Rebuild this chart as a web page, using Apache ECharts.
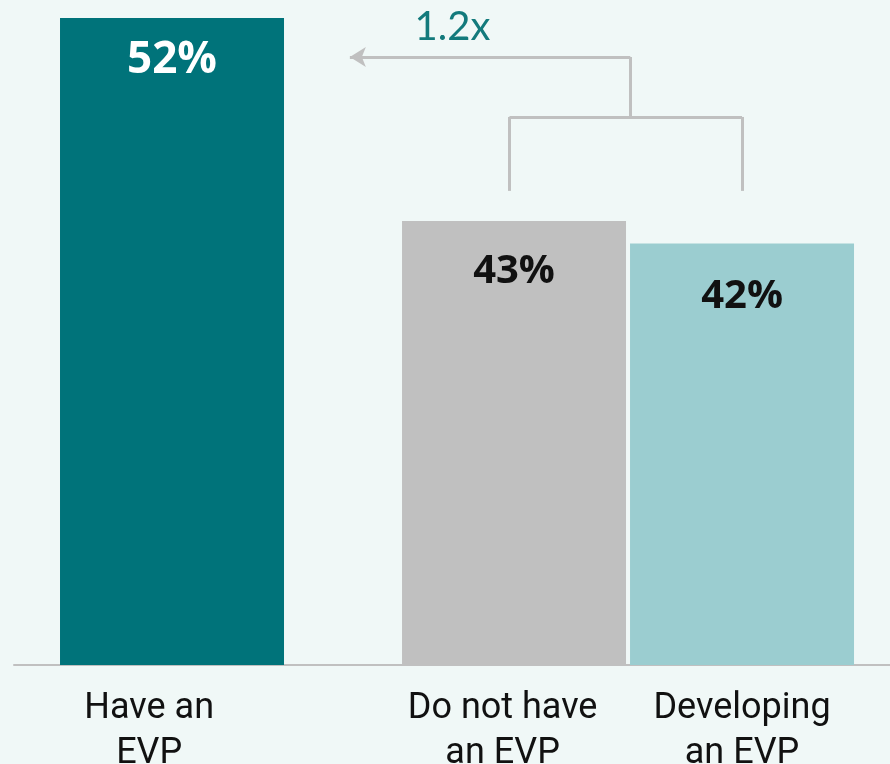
<!DOCTYPE html>
<html>
<head>
<meta charset="utf-8">
<script src="https://cdn.jsdelivr.net/npm/echarts@6/dist/echarts.min.js"></script>
<style>
  html, body { margin: 0; padding: 0; background: #f0f8f7; }
  #chart { width: 890px; height: 764px; }
</style>
</head>
<body>
<div id="chart"></div>
<script>
// Share of respondents by EVP status
const categories = ['Have an\nEVP', 'Do not have\nan EVP', 'Developing\nan EVP'];
const shares = [52, 43, 42];
const ratioNote = '1.2x';

// Layout on the horizontal value scale: the first bar stands alone,
// the two comparison bars sit side by side after a gap.
const barSlots = [0, 1.5, 2.5];
const labelSlots = [-0.1, 1.45, 2.5];
const barColors = ['#00737a', '#c0c0c0', '#9bcdd0'];
const labelColors = ['#ffffff', '#111111', '#111111'];
const labelSizes = [44, 40, 40];
const labelDistances = [20, 31, 33];

const chart = echarts.init(document.getElementById('chart'));

const barData = shares.map((v, i) => ({
  value: [barSlots[i], v],
  itemStyle: { color: barColors[i] },
  label: {
    color: labelColors[i],
    fontSize: labelSizes[i],
    distance: labelDistances[i]
  }
}));

// Bracket joining the two comparison bars, with an arrow back to the first bar
const legY = 44.33, bracketY = 47.61, arrowY = 50.27;
const leftLeg = 1.48, rightLeg = barSlots[2], riser = 2.01, arrowEnd = 0.78;
const bracket = [
  [{ coord: [leftLeg, legY] }, { coord: [leftLeg, bracketY] }],
  [{ coord: [leftLeg, bracketY] }, { coord: [rightLeg, bracketY] }],
  [{ coord: [rightLeg, bracketY] }, { coord: [rightLeg, legY] }],
  [{ coord: [riser, bracketY] }, { coord: [riser, arrowY] }],
  [{ coord: [riser, arrowY] }, { coord: [arrowEnd, arrowY], symbol: 'arrow', symbolSize: [15, 16] }]
];

chart.setOption({
  backgroundColor: '#f0f8f7',
  animation: false,
  grid: { left: 14, right: 0, top: 18, bottom: 99, containLabel: false, outerBoundsMode: 'none' },
  xAxis: {
    type: 'value',
    min: -0.693,
    max: 3.149,
    splitLine: { show: false },
    axisTick: { show: false },
    axisLine: { show: true, lineStyle: { color: '#c0c0c0', width: 2 } },
    axisLabel: {
      customValues: labelSlots,
      formatter: (v) => categories[labelSlots.indexOf(v)] || '',
      fontFamily: 'Roboto',
      fontSize: 36,
      lineHeight: 45,
      color: '#111111',
      margin: 21,
      verticalAlign: 'top'
    }
  },
  yAxis: {
    type: 'value',
    min: 23.3,
    max: 52,
    show: false,
    splitLine: { show: false }
  },
  series: [{
    type: 'bar',
    barWidth: 224,
    data: barData,
    label: {
      show: true,
      position: 'insideTop',
      fontFamily: 'Open Sans',
      fontWeight: 'bold',
      formatter: (p) => p.value[1] + '%'
    },
    markLine: {
      silent: true,
      symbol: ['none', 'none'],
      label: { show: false },
      lineStyle: { color: '#c0c0c0', width: 3, type: 'solid' },
      data: bracket
    },
    markPoint: {
      silent: true,
      symbol: 'circle',
      symbolSize: 1,
      itemStyle: { color: 'rgba(0,0,0,0)' },
      label: {
        show: true,
        position: 'inside',
        formatter: ratioNote,
        fontFamily: 'Lato',
        fontWeight: 'normal',
        fontSize: 40,
        color: '#137a7c'
      },
      data: [{ coord: [1.23, 51.6] }]
    }
  }]
});
</script>
</body>
</html>
